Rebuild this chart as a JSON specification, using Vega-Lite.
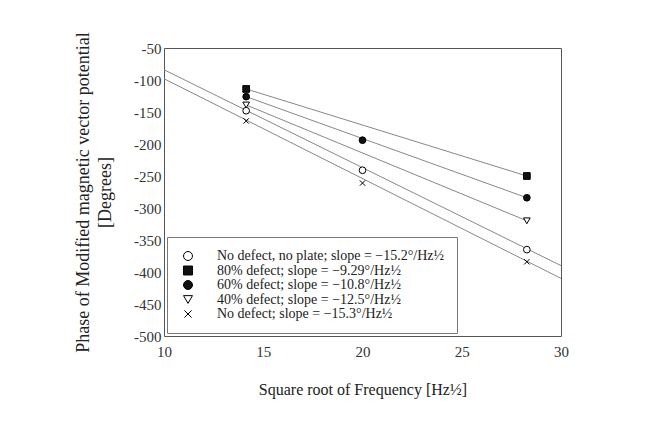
{
  "$schema": "https://vega.github.io/schema/vega-lite/v6.json",
  "width": 397,
  "height": 288,
  "autosize": "none",
  "padding": {"left": 164, "top": 48, "right": 106, "bottom": 89},
  "background": "white",
  "config": {
    "font": "Liberation Serif",
    "view": {"stroke": "#555", "strokeWidth": 1},
    "axis": {
      "grid": false,
      "domain": false,
      "ticks": false,
      "labelFont": "Liberation Serif",
      "labelFontSize": 15,
      "labelColor": "#333",
      "labelFlush": false,
      "labelOverlap": false,
      "titleFont": "Liberation Serif",
      "titleFontWeight": "normal",
      "titleColor": "#222"
    },
    "legend": {
      "orient": "bottom-left",
      "offset": 3,
      "padding": 12,
      "strokeColor": "#777",
      "fillColor": "white",
      "labelFont": "Liberation Serif",
      "labelFontSize": 14,
      "labelColor": "#222",
      "labelLimit": 400,
      "labelOffset": 22,
      "rowPadding": 0.5,
      "symbolSize": 80,
      "symbolOffset": 2,
      "symbolStrokeWidth": 1
    }
  },
  "datasets": {
    "points": [
      {"f": 14.14, "phase": -148, "series": "No defect, no plate; slope = −15.2°/Hz½"},
      {"f": 20.0, "phase": -241, "series": "No defect, no plate; slope = −15.2°/Hz½"},
      {"f": 28.28, "phase": -365, "series": "No defect, no plate; slope = −15.2°/Hz½"},
      {"f": 14.14, "phase": -114, "series": "80% defect; slope = −9.29°/Hz½"},
      {"f": 28.28, "phase": -250, "series": "80% defect; slope = −9.29°/Hz½"},
      {"f": 14.14, "phase": -126, "series": "60% defect; slope = −10.8°/Hz½"},
      {"f": 20.0, "phase": -194, "series": "60% defect; slope = −10.8°/Hz½"},
      {"f": 28.28, "phase": -284, "series": "60% defect; slope = −10.8°/Hz½"},
      {"f": 14.14, "phase": -139, "series": "40% defect; slope = −12.5°/Hz½"},
      {"f": 28.28, "phase": -320, "series": "40% defect; slope = −12.5°/Hz½"},
      {"f": 14.14, "phase": -164, "series": "No defect; slope = −15.3°/Hz½"},
      {"f": 20.0, "phase": -261, "series": "No defect; slope = −15.3°/Hz½"},
      {"f": 28.28, "phase": -384, "series": "No defect; slope = −15.3°/Hz½"}
    ],
    "fits": [
      {"f": 10, "phase": -84, "fit": "a"},
      {"f": 30, "phase": -390, "fit": "a"},
      {"f": 10, "phase": -98, "fit": "b"},
      {"f": 30, "phase": -410, "fit": "b"},
      {"f": 14.14, "phase": -114, "fit": "c"},
      {"f": 28.28, "phase": -250, "fit": "c"},
      {"f": 14.14, "phase": -126, "fit": "d"},
      {"f": 28.28, "phase": -284, "fit": "d"},
      {"f": 14.14, "phase": -139, "fit": "e"},
      {"f": 28.28, "phase": -320, "fit": "e"}
    ]
  },
  "encoding": {
    "x": {
      "field": "f",
      "type": "quantitative",
      "scale": {"domain": [10, 30], "nice": false, "zero": false},
      "axis": {"values": [10, 15, 20, 25, 30], "labelPadding": 8, "titlePadding": 22, "titleFontSize": 16},
      "title": "Square root of Frequency [Hz½]"
    },
    "y": {
      "field": "phase",
      "type": "quantitative",
      "scale": {"domain": [-500, -50], "nice": false, "zero": false},
      "axis": {
        "values": [-500, -450, -400, -350, -300, -250, -200, -150, -100, -50],
        "labelExpr": "datum.value + ''",
        "labelPadding": 3,
        "titlePadding": 19,
        "titleFontSize": 18,
        "titleLineHeight": 22
      },
      "title": ["Phase of Modified magnetic vector potential", "[Degrees]"]
    }
  },
  "layer": [
    {
      "data": {"name": "fits"},
      "mark": {"type": "line", "color": "#888", "strokeWidth": 1, "clip": true},
      "encoding": {
        "detail": {"field": "fit"}
      }
    },
    {
      "data": {"name": "points"},
      "mark": {"type": "point", "filled": false, "strokeWidth": 1, "size": 45, "opacity": 1},
      "encoding": {
        "shape": {
          "field": "series",
          "type": "nominal",
          "scale": {
            "domain": [
              "No defect, no plate; slope = −15.2°/Hz½",
              "80% defect; slope = −9.29°/Hz½",
              "60% defect; slope = −10.8°/Hz½",
              "40% defect; slope = −12.5°/Hz½",
              "No defect; slope = −15.3°/Hz½"
            ],
            "range": ["circle", "square", "circle", "triangle-down", "M-0.8,-0.8L0.8,0.8M0.8,-0.8L-0.8,0.8"]
          },
          "legend": {"title": null}
        },
        "fill": {
          "field": "series",
          "type": "nominal",
          "scale": {
            "domain": [
              "No defect, no plate; slope = −15.2°/Hz½",
              "80% defect; slope = −9.29°/Hz½",
              "60% defect; slope = −10.8°/Hz½",
              "40% defect; slope = −12.5°/Hz½",
              "No defect; slope = −15.3°/Hz½"
            ],
            "range": ["white", "#111", "#111", "white", "white"]
          },
          "legend": {"title": null}
        },
        "stroke": {
          "field": "series",
          "type": "nominal",
          "scale": {
            "domain": [
              "No defect, no plate; slope = −15.2°/Hz½",
              "80% defect; slope = −9.29°/Hz½",
              "60% defect; slope = −10.8°/Hz½",
              "40% defect; slope = −12.5°/Hz½",
              "No defect; slope = −15.3°/Hz½"
            ],
            "range": ["black", "black", "black", "black", "black"]
          },
          "legend": {"title": null}
        }
      }
    }
  ]
}
